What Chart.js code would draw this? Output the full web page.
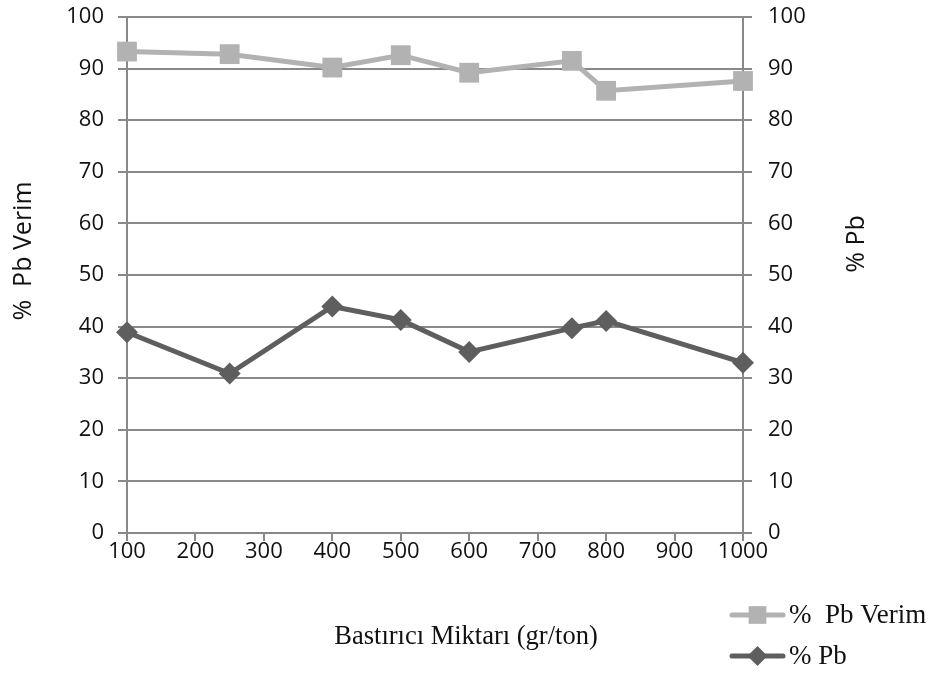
<!DOCTYPE html>
<html>
<head>
<meta charset="utf-8">
<script src="https://cdn.jsdelivr.net/npm/chart.js@4.4.1/dist/chart.umd.min.js"></script>
<style>
  html, body { margin: 0; padding: 0; background: #ffffff; }
  #wrap { width: 936px; height: 673px; }
</style>
</head>
<body>
<div id="wrap"><canvas id="chart" width="936" height="673"></canvas></div>
<script>
// Suppressant dosage (gr/ton) on the x axis
const dosages = [100, 250, 400, 500, 600, 750, 800, 1000];
// Lead recovery, %
const pbRecovery = [93.3, 92.8, 90.2, 92.6, 89.2, 91.5, 85.7, 87.6];
// Lead grade, %
const pbGrade = [38.9, 30.9, 43.9, 41.3, 35.1, 39.7, 41.1, 33.0];

const xTickValues = [100, 200, 300, 400, 500, 600, 700, 800, 900, 1000];
const yTickValues = [0, 10, 20, 30, 40, 50, 60, 70, 80, 90, 100];

const seriesNames = ['%  Pb Verim', '% Pb'];
const xTitle = 'Bastırıcı Miktarı (gr/ton)';
const leftTitle = '%  Pb Verim';
const rightTitle = '% Pb';

const GRID = '#898989';
const TEXT = '#111111';
const SANS = '"Open Sans", "Noto Sans", sans-serif';
const SERIF = '"Liberation Serif", "Times New Roman", serif';
const TICK_FONT = { family: SANS, size: 22 };

const toPoints = (xs, ys) => xs.map((x, i) => ({ x: x, y: ys[i] }));
const fixedTicks = values => scale => { scale.ticks = values.map(v => ({ value: v })); };
const plainNumber = v => String(v);
// fixed axis box sizes, with no extra room reserved for edge labels
const fixVertical = w => s => { s.width = w; s.paddingTop = 0; s.paddingBottom = 0; };
const fixHorizontal = h => s => { s.height = h; s.paddingLeft = 0; s.paddingRight = 0; };

// Titles and the stacked legend at the lower right
const decorations = {
  id: 'decorations',
  afterDraw(chart) {
    const ctx = chart.ctx;
    ctx.save();
    ctx.fillStyle = TEXT;
    ctx.textAlign = 'center';
    ctx.textBaseline = 'middle';

    ctx.font = '25px ' + SANS;
    ctx.save();
    ctx.translate(24, 251);
    ctx.rotate(-Math.PI / 2);
    ctx.fillText(leftTitle, 0, 0);
    ctx.restore();

    ctx.save();
    ctx.translate(857, 244);
    ctx.rotate(-Math.PI / 2);
    ctx.fillText(rightTitle, 0, 0);
    ctx.restore();

    ctx.font = '26.5px ' + SERIF;
    ctx.fillText(xTitle, 466, 637);

    const rows = [615, 656];
    chart.data.datasets.forEach((ds, i) => {
      const y = rows[i];
      ctx.strokeStyle = ds.borderColor;
      ctx.lineWidth = ds.borderWidth;
      ctx.lineCap = 'round';
      ctx.beginPath();
      ctx.moveTo(732, y);
      ctx.lineTo(783, y);
      ctx.stroke();
      ctx.fillStyle = ds.pointBackgroundColor;
      Chart.helpers.drawPoint(ctx, {
        pointStyle: ds.pointStyle,
        rotation: 0,
        borderWidth: 0,
        radius: ds.pointStyle === 'rect' ? 12.5 : 10
      }, 757.5, y);
      ctx.fillStyle = TEXT;
      ctx.textAlign = 'left';
      ctx.font = '27px ' + SERIF;
      ctx.fillText(seriesNames[i], 789, y + 1);
    });
    ctx.restore();
  }
};

new Chart(document.getElementById('chart'), {
  type: 'line',
  data: {
    datasets: [
      {
        label: seriesNames[0],
        data: toPoints(dosages, pbRecovery),
        yAxisID: 'yLeft',
        borderColor: '#B2B2B2',
        backgroundColor: '#B2B2B2',
        pointBackgroundColor: '#B2B2B2',
        borderWidth: 5,
        pointStyle: 'rect',
        pointRadius: 14,
        pointBorderWidth: 0,
        tension: 0,
        clip: false
      },
      {
        label: seriesNames[1],
        data: toPoints(dosages, pbGrade),
        yAxisID: 'yRight',
        borderColor: '#5E5E5E',
        backgroundColor: '#5E5E5E',
        pointBackgroundColor: '#5E5E5E',
        borderWidth: 5,
        pointStyle: 'rectRot',
        pointRadius: 11,
        pointBorderWidth: 0,
        tension: 0,
        clip: false
      }
    ]
  },
  options: {
    responsive: false,
    animation: false,
    devicePixelRatio: 1,
    layout: { padding: { top: 17, left: 0, right: 0, bottom: 0 } },
    plugins: { legend: { display: false }, tooltip: { enabled: false } },
    scales: {
      x: {
        type: 'linear',
        min: 100,
        max: 1000,
        afterBuildTicks: fixedTicks(xTickValues),
        afterFit: fixHorizontal(140),
        grid: { drawOnChartArea: false, drawTicks: true, tickLength: 8, color: GRID, lineWidth: 2 },
        border: { display: true, color: GRID, width: 2 },
        ticks: { color: TEXT, font: TICK_FONT, padding: -2, maxRotation: 0, autoSkip: false, callback: plainNumber }
      },
      yLeft: {
        type: 'linear',
        position: 'left',
        min: 0,
        max: 100,
        afterBuildTicks: fixedTicks(yTickValues),
        afterFit: fixVertical(127),
        grid: { drawOnChartArea: true, drawTicks: true, tickLength: 9, color: GRID, lineWidth: 2 },
        border: { display: true, color: GRID, width: 2 },
        ticks: { color: TEXT, font: TICK_FONT, padding: 14, callback: plainNumber }
      },
      yRight: {
        type: 'linear',
        position: 'right',
        min: 0,
        max: 100,
        afterBuildTicks: fixedTicks(yTickValues),
        afterFit: fixVertical(193),
        grid: { drawOnChartArea: false, drawTicks: true, tickLength: 9, color: GRID, lineWidth: 2 },
        border: { display: true, color: GRID, width: 2 },
        ticks: { color: TEXT, font: TICK_FONT, padding: 16, callback: plainNumber }
      }
    }
  },
  plugins: [decorations]
});
</script>
</body>
</html>
